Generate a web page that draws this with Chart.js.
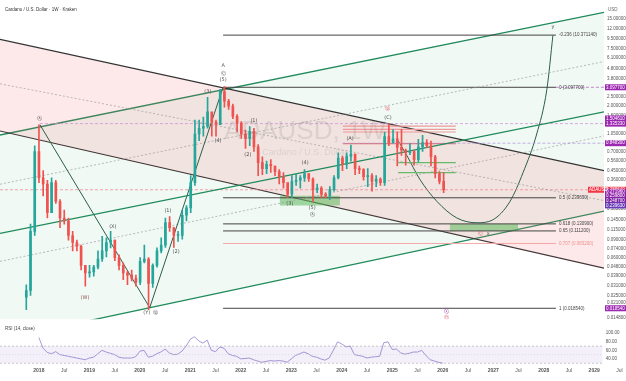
<!DOCTYPE html>
<html>
<head>
<meta charset="utf-8">
<script src="https://cdn.jsdelivr.net/npm/chart.js@4.4.1/dist/chart.umd.min.js"></script>
<style>
	html, body { margin: 0; padding: 0; background: #fff; }
	#wrap { position: relative; width: 626px; height: 381px; overflow: hidden; }
	#chart-price { position: absolute; left: 0; top: 0; }
	#chart-rsi { position: absolute; left: 0; top: 325px; }
</style>
</head>
<body>
<div id="wrap">
	<canvas id="chart-price" width="626" height="325"></canvas>
	<canvas id="chart-rsi" width="626" height="56"></canvas>
</div>
<script>
// monthly candles, first one is Oct 2017
const firstMonth = 2017.75;
const closes = [
	0.028, 0.11, 0.70, 0.38, 0.33, 0.17, 0.34, 0.22, 0.15, 0.14, 0.10, 0.085, 0.078, 0.05, 0.042,
	0.043, 0.048, 0.058, 0.07, 0.085, 0.09, 0.06, 0.05, 0.042, 0.04, 0.037, 0.034,
	0.055, 0.058, 0.033, 0.05, 0.07, 0.08, 0.135, 0.12, 0.10, 0.10, 0.16, 0.19,
	0.34, 1.05, 1.2, 1.25, 1.75, 1.38, 1.30, 2.80, 2.25, 2.0, 1.58, 1.35,
	1.05, 0.95, 1.12, 0.78, 0.54, 0.47, 0.52, 0.50, 0.44, 0.39, 0.34, 0.26,
	0.35, 0.36, 0.38, 0.42, 0.37, 0.29, 0.30, 0.26, 0.25, 0.29, 0.38, 0.60,
	0.52, 0.63, 0.66, 0.47, 0.46, 0.39, 0.40, 0.35, 0.37, 0.34, 0.99, 0.86,
	0.94, 0.77, 0.72, 0.68, 0.70, 0.58, 0.78, 0.86, 0.80, 0.62, 0.42, 0.35,
	0.29
];
const highs = [
	0.032, 0.13, 0.80, 1.30, 0.45, 0.36, 0.38, 0.36, 0.23, 0.18, 0.15, 0.11, 0.09, 0.08, 0.05,
	0.05, 0.05, 0.07, 0.098, 0.095, 0.11, 0.09, 0.064, 0.053, 0.044, 0.045, 0.04,
	0.06, 0.08, 0.06, 0.052, 0.075, 0.095, 0.15, 0.155, 0.12, 0.11, 0.18, 0.20,
	0.40, 1.45, 1.45, 1.55, 2.45, 1.7, 1.45, 2.95, 3.15, 2.35, 2.1, 1.65,
	1.4, 1.15, 1.25, 1.2, 0.82, 0.62, 0.56, 0.58, 0.50, 0.46, 0.43, 0.33,
	0.40, 0.42, 0.40, 0.46, 0.42, 0.38, 0.33, 0.31, 0.27, 0.31, 0.40, 0.68,
	0.63, 0.68, 0.81, 0.66, 0.50, 0.47, 0.47, 0.42, 0.40, 0.38, 1.10, 1.33,
	1.16, 1.10, 1.17, 0.74, 0.84, 0.72, 0.93, 1.02, 0.92, 0.89, 0.64, 0.44,
	0.43
];
const lows = [
	0.018, 0.025, 0.10, 0.34, 0.25, 0.15, 0.17, 0.21, 0.12, 0.13, 0.09, 0.07, 0.07, 0.045, 0.031,
	0.038, 0.039, 0.046, 0.055, 0.061, 0.075, 0.056, 0.045, 0.036, 0.032, 0.035, 0.031,
	0.032, 0.053, 0.018, 0.030, 0.048, 0.067, 0.076, 0.11, 0.076, 0.087, 0.092, 0.14,
	0.17, 0.32, 0.9, 1.0, 1.2, 1.0, 1.0, 1.3, 1.95, 1.85, 1.5, 1.1,
	0.95, 0.75, 0.8, 0.7, 0.4, 0.41, 0.42, 0.43, 0.40, 0.33, 0.30, 0.24,
	0.24, 0.32, 0.30, 0.35, 0.35, 0.22, 0.27, 0.24, 0.24, 0.23, 0.28, 0.37,
	0.45, 0.47, 0.56, 0.41, 0.42, 0.36, 0.31, 0.28, 0.31, 0.32, 0.32, 0.80,
	0.85, 0.50, 0.64, 0.51, 0.65, 0.51, 0.55, 0.70, 0.77, 0.50, 0.38, 0.33,
	0.27
];
const rsiValues = [
	null, null, null, 90, 65, 55, 52, 57, 50, 48, 46, 44, 42, 40, 38,
	42, 44, 52, 60, 56, 53, 50, 44, 42, 42, 42, 45,
	58, 60, 44, 46, 52, 56, 63, 54, 50, 51, 58, 70,
	86, 92, 82, 77, 84, 60, 57, 68, 65, 52, 48, 46,
	40, 41, 42, 38, 35, 32, 34, 36, 35, 36, 35, 32,
	40, 48, 52, 56, 52, 46, 44, 40, 37, 42, 60, 80,
	75, 68, 70, 50, 48, 46, 42, 44, 45, 46, 78, 80,
	62, 63, 54, 51, 53, 56, 56, 60, 48, 38, 35, 32,
	30
];

const priceTicks = [15, 12, 9.5, 7.5, 6.1, 4.8, 3.8, 2.5, 2.0, 1.6, 1.05, 0.7, 0.56, 0.45, 0.36,
	0.185, 0.145, 0.115, 0.09, 0.074, 0.06, 0.048, 0.039, 0.031, 0.025, 0.021, 0.0148];
const rsiTicks = [100, 80, 60, 40];
const tickYears = [2018, 2019, 2020, 2021, 2022, 2023, 2024, 2025, 2026, 2027, 2028, 2029];
const xMin = 2017.23, xMax = 2029.17;

// channels and drawn lines, [year, price]
const greenTop = [[xMin, 1.026], [xMax, 17.56]];
const greenMid = [[xMin, 0.105], [xMax, 1.756]];
const greenLow = [[xMin, 0.00898], [xMax, 0.1757]];
const pinkTop = [[xMin, 9.39], [xMax, 0.449]];
const pinkLow = [[xMin, 1.124], [xMax, 0.04696]];
const waveLegs = [
	[[2018.02, 1.30], [2020.19, 0.0188]],
	[[2020.19, 0.0188], [2021.64, 3.10]]
];
const dottedLines = [
	[[xMin, 0.328], [xMax, 5.62]],
	[[xMin, 0.0549], [xMax, 1.004]],
	[[xMin, 3.36], [xMax, 0.2245]]
];
const projection = [[2025.10, 0.90], [2025.27, 0.642], [2025.53, 0.367], [2025.87, 0.2196], [2026.26, 0.1502],
	[2026.66, 0.1343], [2026.97, 0.1436], [2027.31, 0.2196], [2027.57, 0.4295], [2027.84, 1.05], [2028.04, 2.94], [2028.16, 10.3]];

const fibRatios = ['-0.236', '0', '0.5', '0.618', '0.65', '0.707', '1'];
const fibPrices = [10.37114, 3.0977, 0.23963, 0.1309, 0.1112, 0.0832, 0.01854];
const fibStart = 2021.64, fibEnd = 2028.22;

const zones = [[2022.76, 2023.95, 0.251, 0.2008], [2026.12, 2027.47, 0.1309, 0.1112]];
const levelSegs = [
	[2024.01, 2026.24, 1.26, '#ef9a9a'], [2024.01, 2026.24, 1.17, '#ef9a9a'], [2024.01, 2026.24, 1.10, '#ef9a9a'],
	[2024.01, 2026.24, 0.84, '#e57373'], [2025.10, 2026.24, 0.54, '#66bb6a'], [2025.10, 2026.24, 0.43, '#66bb6a']
];
const dashLevels = [[2018.02, 1.3353, '#ce93d8'], [2024.0, 0.8483, '#b39ddb'], [fibEnd, 3.0977, '#ba68c8'], [xMin, 0.2886, '#f28b95']];

const waveLabels = [
	[2018.02, 1.50, 'Ⓐ', '#555'], [2018.91, 0.0235, '(W)', '#8d5555'], [2019.46, 0.1228, '(X)', '#555'],
	[2020.13, 0.0168, '(Y)', '#555'], [2020.31, 0.0168, 'Ⓑ', '#555'], [2020.55, 0.1796, '(1)', '#555'],
	[2020.71, 0.0687, '(2)', '#555'], [2021.34, 2.81, '(3)', '#555'], [2021.54, 0.898, '(4)', '#555'],
	[2021.64, 3.67, '(5)', '#555'], [2021.64, 4.29, 'Ⓒ', '#555'], [2021.64, 5.14, 'A', '#555'],
	[2022.25, 1.436, '(1)', '#555'], [2022.13, 0.657, '(2)', '#555'], [2022.96, 0.21, '(3)', '#555'],
	[2023.26, 0.537, '(4)', '#555'], [2023.40, 0.192, '(5)', '#555'], [2023.40, 0.1606, 'Ⓐ', '#555'],
	[2024.15, 0.939, '(A)', '#555'], [2024.90, 1.877, 'Ⓑ', '#e05a6a'], [2024.90, 1.535, '(C)', '#555'],
	[2028.16, 12.56, 'y', '#555'], [2026.72, 0.105, 'Ⓒ', '#e05a6a'], [2026.88, 0.105, 'x', '#555'],
	[2026.06, 0.0172, 'Ⓧ', '#9c27b0'], [2026.06, 0.0150, 'Ⓓ', '#e05a6a']
];
const axisTags = [
	[3.0977, '#9c27b0', '3.097700'], [1.5046, '#9c27b0', '1.504610'], [1.3353, '#9c27b0', '1.335330'],
	[0.8483, '#9c27b0', '0.848300'], [0.2886, '#f23645', '0.288640'], [0.2747, '#9c27b0', '0.271960'],
	[0.251, '#8e24aa', '0.259800'], [0.2245, '#7b1fa2', '0.248700'], [0.2008, '#673ab7', '0.239630'],
	[0.01854, '#9c27b0', '0.018540']
];

const green = '#1f8a5b';
const upColor = '#26a69a', downColor = '#ef5350';
const opens = closes.map((c, i) => i ? closes[i - 1] : 0.024);
const months = closes.map((c, i) => firstMonth + i / 12);
const candleColors = closes.map((c, i) => c >= opens[i] ? upColor : downColor);

const pts = arr => arr.map(p => ({x: p[0], y: p[1]}));
const lineSet = (points, color, width, extra) => Object.assign({
	type: 'line', data: pts(points), borderColor: color, borderWidth: width,
	pointRadius: 0, fill: false, order: 20
}, extra || {});

const datasets = [];
// background regions
datasets.push(lineSet(greenTop, green, 1.3, {fill: '+1', backgroundColor: 'rgba(76,175,120,0.08)', order: 100}));
datasets.push(lineSet(greenLow, green, 1.3, {order: 100}));
datasets.push(lineSet(pinkTop, '#333', 1.1, {fill: '+1', backgroundColor: 'rgba(240,110,110,0.15)', order: 90}));
datasets.push(lineSet(pinkLow, '#333', 1.1, {order: 90}));
zones.forEach(z => {
	datasets.push(lineSet([[z[0], z[2]], [z[1], z[2]]], 'rgba(0,0,0,0)', 0, {fill: '+1', backgroundColor: 'rgba(92,184,92,0.55)', order: 80}));
	datasets.push(lineSet([[z[0], z[3]], [z[1], z[3]]], 'rgba(0,0,0,0)', 0, {order: 80}));
});
datasets.push(lineSet(greenMid, green, 1.3));
waveLegs.forEach(l => datasets.push(lineSet(l, '#2b5e48', 1)));
dottedLines.forEach(l => datasets.push(lineSet(l, '#9e9e9e', 0.7, {borderDash: [2, 2]})));
dashLevels.forEach(l => datasets.push(lineSet([[l[0], l[1]], [xMax, l[1]]], l[2], 0.8, {borderDash: [3, 2]})));
levelSegs.forEach(l => datasets.push(lineSet([[l[0], l[2]], [l[1], l[2]]], l[3], 1.2)));
fibPrices.forEach((p, i) => datasets.push(lineSet([[fibStart, p], [fibEnd, p]], fibRatios[i] === '0.707' ? '#f4a6a6' : '#444', 1)));
datasets.push(lineSet(projection, '#2b5e48', 1, {cubicInterpolationMode: 'monotone'}));
// candles
datasets.push({
	type: 'bar', data: months.map((m, i) => ({x: m, y: [lows[i], highs[i]]})),
	backgroundColor: candleColors, barThickness: 1, grouped: false, order: 5
});
datasets.push({
	type: 'bar', data: months.map((m, i) => ({x: m, y: [opens[i], closes[i]]})),
	backgroundColor: candleColors, barThickness: 2, minBarLength: 1, grouped: false, order: 4
});

const yFromPrice = (chart, p) => chart.scales.y.getPixelForValue(p);
const xFromYear = (chart, t) => chart.scales.x.getPixelForValue(t);

const overlayPlugin = {
	id: 'overlay',
	afterDatasetsDraw(chart) {
		const ctx = chart.ctx;
		const area = chart.chartArea;
		ctx.save();
		ctx.beginPath();
		ctx.rect(area.left, area.top, area.right - area.left, area.bottom - area.top);
		ctx.clip();
		// watermark
		ctx.fillStyle = 'rgba(110,110,110,0.16)';
		ctx.font = '26px "Liberation Sans"';
		ctx.textAlign = 'center';
		ctx.textBaseline = 'middle';
		ctx.fillText('ADAUSD, 1W', 305, 132);
		ctx.font = '9px "Liberation Sans"';
		ctx.fillText('Cardano / U.S. Dollar', 305, 153);
		// wave labels
		ctx.font = '5px "DejaVu Sans"';
		waveLabels.forEach(l => {
			ctx.fillStyle = l[3];
			ctx.fillText(l[2], xFromYear(chart, l[0]), yFromPrice(chart, l[1]));
		});
		// fib labels
		ctx.textAlign = 'left';
		ctx.font = '4.5px "Liberation Sans"';
		fibPrices.forEach((p, i) => {
			ctx.fillStyle = fibRatios[i] === '0.707' ? '#f09090' : '#444';
			ctx.fillText(fibRatios[i] + ' (' + p.toFixed(6) + ')', xFromYear(chart, fibEnd) + 3, yFromPrice(chart, p));
		});
		ctx.restore();
		// title
		ctx.save();
		ctx.fillStyle = '#333';
		ctx.font = '4.5px "Liberation Sans"';
		ctx.textBaseline = 'middle';
		ctx.fillText('Cardano / U.S. Dollar · 1W · Kraken', 5, 10);
		ctx.fillStyle = '#666';
		ctx.fillText('USD', area.right + 4, 10);
		// axis price tags
		ctx.font = '4.5px "Liberation Sans"';
		axisTags.forEach(t => {
			const y = yFromPrice(chart, t[0]);
			ctx.fillStyle = t[1];
			ctx.fillRect(area.right + 1, y - 3, 21, 6);
			ctx.fillStyle = '#fff';
			ctx.fillText(t[2], area.right + 2, y);
		});
		const yc = yFromPrice(chart, 0.2886);
		ctx.fillStyle = '#f23645';
		ctx.fillRect(area.right - 16, yc - 3, 16, 6);
		ctx.fillStyle = '#fff';
		ctx.fillText('ADAUSD', area.right - 15, yc);
		ctx.restore();
	}
};

const priceConfig = {
	type: 'bar',
	data: {datasets: datasets},
	options: {
		responsive: false,
		animation: false,
		devicePixelRatio: 1,
		layout: {padding: 0},
		plugins: {legend: {display: false}, tooltip: {enabled: false}},
		scales: {
			x: {
				type: 'linear', min: xMin, max: xMax, offset: false, display: false
			},
			y: {
				type: 'logarithmic', position: 'right', min: 0.01436, max: 20.5,
				grid: {display: false, drawTicks: false}, border: {display: false},
				afterFit: s => { s.width = 22; },
				afterBuildTicks: s => { s.ticks = priceTicks.map(v => ({value: v})); },
				ticks: {
					autoSkip: false, padding: 3, color: '#555',
					font: {size: 4.5, family: 'Liberation Sans'},
					callback: v => Number(v).toFixed(6)
				}
			}
		}
	},
	plugins: [overlayPlugin]
};

const rsiLabelPlugin = {
	id: 'rsiLabel',
	afterDraw(chart) {
		const ctx = chart.ctx;
		ctx.save();
		ctx.fillStyle = '#444';
		ctx.font = '4.5px "Liberation Sans"';
		ctx.textBaseline = 'middle';
		ctx.fillText('RSI (14, close)', 5, 4);
		ctx.restore();
	}
};

const xTickValues = [];
tickYears.forEach(y => { xTickValues.push(y); xTickValues.push(y + 0.5); });
const isYearTick = ctx => !!(ctx && ctx.tick && Number.isInteger(ctx.tick.value));

const rsiConfig = {
	type: 'line',
	data: {
		datasets: [
			{data: pts([[xMin, 70], [xMax, 70]]), borderColor: '#aaa', borderWidth: 0.6, borderDash: [2, 2],
				pointRadius: 0, fill: '+1', backgroundColor: 'rgba(126,87,194,0.09)'},
			{data: pts([[xMin, 30], [xMax, 30]]), borderColor: '#aaa', borderWidth: 0.6, borderDash: [2, 2], pointRadius: 0},
			{data: pts([[xMin, 50], [xMax, 50]]), borderColor: '#ccc', borderWidth: 0.5, borderDash: [1, 2], pointRadius: 0},
			{data: months.map((m, i) => ({x: m, y: rsiValues[i]})), borderColor: '#9c8fd3', borderWidth: 0.9,
				pointRadius: 0, spanGaps: false}
		]
	},
	options: {
		responsive: false,
		animation: false,
		devicePixelRatio: 1,
		layout: {padding: {top: 1}},
		plugins: {legend: {display: false}, tooltip: {enabled: false}},
		scales: {
			x: {
				type: 'linear', min: xMin, max: xMax,
				grid: {display: false, drawTicks: false}, border: {display: false},
				afterFit: s => { s.height = 17; },
				afterBuildTicks: s => { s.ticks = xTickValues.map(v => ({value: v})); },
				ticks: {
					autoSkip: false, maxRotation: 0, padding: 4, color: '#555',
					font: ctx => ({size: 5, family: 'Liberation Sans', weight: isYearTick(ctx) ? 'bold' : 'normal'}),
					callback: v => Number.isInteger(v) ? String(v) : 'Jul'
				}
			},
			y: {
				position: 'right', min: 28, max: 106,
				grid: {display: false, drawTicks: false}, border: {display: false},
				afterFit: s => { s.width = 22; },
				afterBuildTicks: s => { s.ticks = rsiTicks.map(v => ({value: v})); },
				ticks: {
					autoSkip: false, padding: 3, color: '#555',
					font: {size: 4.5, family: 'Liberation Sans'},
					callback: v => Number(v).toFixed(2)
				}
			}
		}
	},
	plugins: [rsiLabelPlugin]
};

document.addEventListener('DOMContentLoaded', () => {
	new Chart(document.getElementById('chart-price'), priceConfig);
	new Chart(document.getElementById('chart-rsi'), rsiConfig);
});
</script>
</body>
</html>
